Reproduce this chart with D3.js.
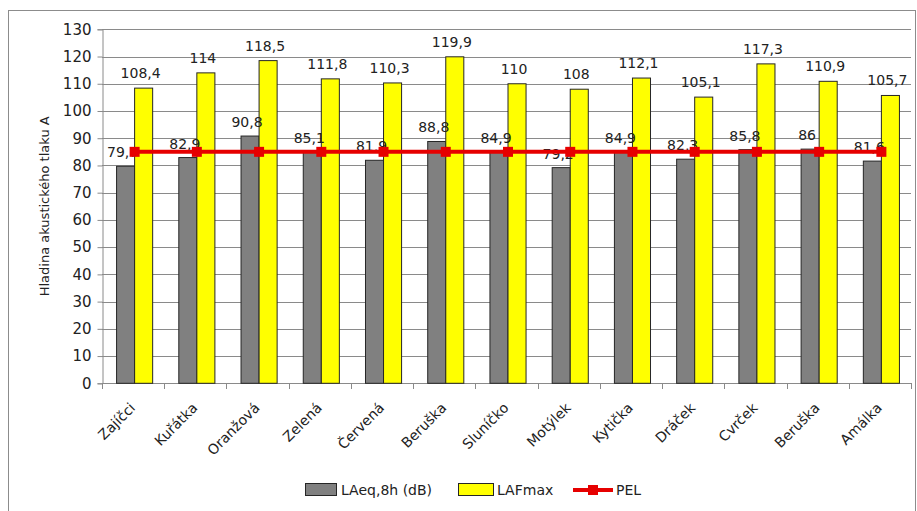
<!DOCTYPE html>
<html>
<head>
<meta charset="utf-8">
<script src="https://cdn.jsdelivr.net/npm/d3@7/dist/d3.min.js"></script>
<style>
  html, body { margin: 0; padding: 0; background: #fff; }
  svg { display: block; font-family: "DejaVu Sans", Verdana, sans-serif; }
</style>
</head>
<body>
<svg id="chart" width="917" height="511"></svg>
<script>
const categories = ["Zajíčci", "Kuřátka", "Oranžová", "Zelená", "Červená", "Beruška", "Sluníčko", "Motýlek", "Kytička", "Dráček", "Cvrček", "Beruška", "Amálka"];
const laeq = [79.7, 82.9, 90.8, 85.1, 81.9, 88.8, 84.9, 79.2, 84.9, 82.3, 85.8, 86, 81.6];
const lafmax = [108.4, 114, 118.5, 111.8, 110.3, 119.9, 110, 108, 112.1, 105.1, 117.3, 110.9, 105.7];
const pel = [85, 85, 85, 85, 85, 85, 85, 85, 85, 85, 85, 85, 85];
const yTicks = [0, 10, 20, 30, 40, 50, 60, 70, 80, 90, 100, 110, 120, 130];
const seriesNames = ["LAeq,8h (dB)", "LAFmax", "PEL"];
const yTitle = "Hladina akustického tlaku A";

(function () {
const svg = d3.select("#chart");
const fmt = v => String(v).replace(".", ",");

// outer frame
svg.append("rect").attr("x", 8.5).attr("y", 10.5).attr("width", 907).attr("height", 505)
  .attr("fill", "#fff").attr("stroke", "#8c8c8c").attr("stroke-width", 1);

const pLeft = 102, pRight = 911, pTop = 29.3, pBottom = 383.3;
const x = d3.scaleBand().domain(d3.range(categories.length)).range([pLeft + 1.5, pRight + 1.5]);
const y = d3.scaleLinear().domain([0, 130]).range([pBottom, pTop]);
const bw = x.bandwidth() * 0.29;
const cx = i => x(i) + x.bandwidth() / 2;

// gridlines
svg.append("g").selectAll("line").data(yTicks).join("line")
  .attr("x1", pLeft).attr("x2", pRight)
  .attr("y1", d => Math.round(y(d)) + 0.5).attr("y2", d => Math.round(y(d)) + 0.5)
  .attr("stroke", "#8a8a8a").attr("stroke-width", 1);

// y axis
const yAxis = svg.append("g").attr("transform", `translate(${pLeft + 0.5},0)`)
  .call(d3.axisLeft(y).tickValues(yTicks).tickSize(5).tickPadding(6).tickFormat(d => d));
yAxis.select(".domain").attr("stroke", "#8a8a8a");
yAxis.selectAll(".tick line").attr("stroke", "#8a8a8a");
yAxis.selectAll(".tick text").attr("font-size", 15).attr("fill", "#222")
  .attr("font-family", "DejaVu Sans, Verdana, sans-serif");

// x axis
const xAxis = svg.append("g").attr("transform", `translate(0,${Math.round(pBottom) + 0.5})`)
  .call(d3.axisBottom(x).tickSize(0).tickFormat(""));
xAxis.select(".domain").attr("stroke", "#8a8a8a").attr("d", `M${pLeft},0H${pRight}`);
xAxis.selectAll(".tick").remove();
svg.append("g").selectAll("line").data(d3.range(categories.length + 1)).join("line")
  .attr("x1", i => Math.round(pLeft + i * (pRight - pLeft) / categories.length) + 0.5)
  .attr("x2", i => Math.round(pLeft + i * (pRight - pLeft) / categories.length) + 0.5)
  .attr("y1", Math.round(pBottom)).attr("y2", Math.round(pBottom) + 6)
  .attr("stroke", "#8a8a8a");

// category labels
svg.append("g").selectAll("text").data(categories).join("text")
  .attr("transform", (d, i) => `translate(${cx(i) - 2},${pBottom + 22}) rotate(-45)`)
  .attr("text-anchor", "end").attr("dy", "0.35em")
  .attr("font-size", 14).attr("fill", "#222").text(d => d);

// bars
svg.append("g").selectAll("rect").data(laeq).join("rect")
  .attr("x", (d, i) => cx(i) - bw)
  .attr("y", d => y(d)).attr("width", bw).attr("height", d => pBottom - y(d))
  .attr("fill", "#808080").attr("stroke", "#262626").attr("stroke-width", 1);
svg.append("g").selectAll("rect").data(lafmax).join("rect")
  .attr("x", (d, i) => cx(i))
  .attr("y", d => y(d)).attr("width", bw).attr("height", d => pBottom - y(d))
  .attr("fill", "#ffff00").attr("stroke", "#262626").attr("stroke-width", 1);

// data labels
svg.append("g").selectAll("text").data(laeq).join("text")
  .attr("x", (d, i) => cx(i) - bw / 2 - 3)
  .attr("y", d => y(d) - 9)
  .attr("text-anchor", "middle").attr("font-size", 14).attr("fill", "#222")
  .text(d => fmt(d));
svg.append("g").selectAll("text").data(lafmax).join("text")
  .attr("x", (d, i) => cx(i) + bw / 2 - 3)
  .attr("y", d => y(d) - 10)
  .attr("text-anchor", "middle").attr("font-size", 14).attr("fill", "#222")
  .text(d => fmt(d));

// PEL line
const line = d3.line().x((d, i) => cx(i)).y(d => y(d));
svg.append("path").datum(pel).attr("d", line)
  .attr("fill", "none").attr("stroke", "#e60000").attr("stroke-width", 4);
svg.append("g").selectAll("rect").data(pel).join("rect")
  .attr("x", (d, i) => cx(i) - 5).attr("y", d => y(d) - 5)
  .attr("width", 10).attr("height", 10).attr("fill", "#e60000");

// y title
svg.append("text").attr("transform", `translate(49,${(pTop + pBottom) / 2}) rotate(-90)`)
  .attr("text-anchor", "middle").attr("font-size", 13).attr("fill", "#222").text(yTitle);

// legend
const ly = 490;
const lg = svg.append("g");
lg.append("rect").attr("x", 305.5).attr("y", ly - 6.5).attr("width", 31).attr("height", 12)
  .attr("fill", "#808080").attr("stroke", "#262626");
lg.append("text").attr("x", 341).attr("y", ly).attr("dy", "0.35em").attr("font-size", 14)
  .attr("fill", "#222").text(seriesNames[0]);
lg.append("rect").attr("x", 458.5).attr("y", ly - 6.5).attr("width", 35).attr("height", 12)
  .attr("fill", "#ffff00").attr("stroke", "#262626");
lg.append("text").attr("x", 497).attr("y", ly).attr("dy", "0.35em").attr("font-size", 14)
  .attr("fill", "#222").text(seriesNames[1]);
lg.append("line").attr("x1", 573).attr("x2", 613).attr("y1", ly).attr("y2", ly)
  .attr("stroke", "#e60000").attr("stroke-width", 4);
lg.append("rect").attr("x", 588).attr("y", ly - 5).attr("width", 10).attr("height", 10).attr("fill", "#e60000");
lg.append("text").attr("x", 616).attr("y", ly).attr("dy", "0.35em").attr("font-size", 14)
  .attr("fill", "#222").text(seriesNames[2]);
})();
</script>
</body>
</html>
